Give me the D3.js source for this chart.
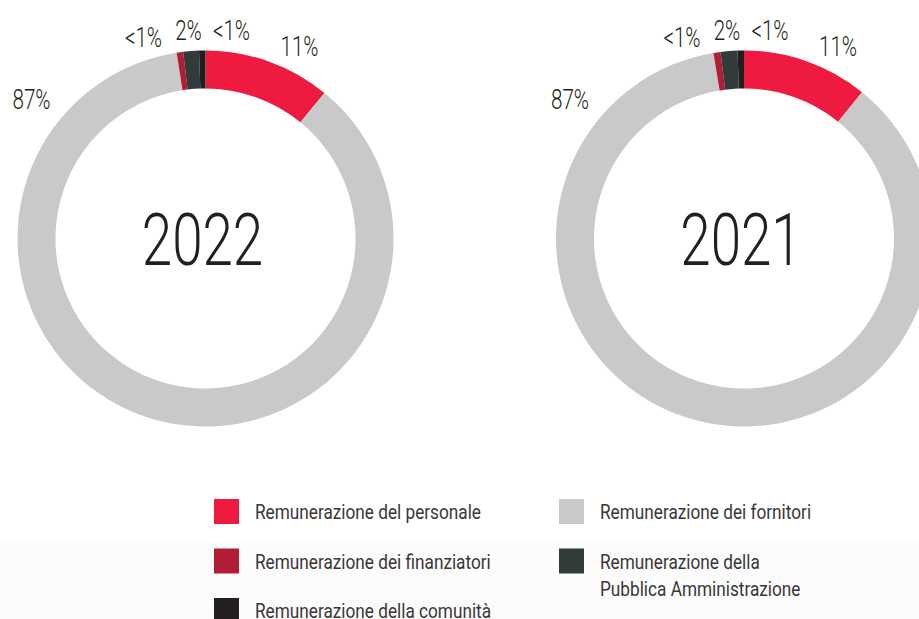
<!DOCTYPE html>
<html lang="en">
<head>
    <meta charset="UTF-8">
    <title>Remunerazione donuts</title>
    <script src="https://d3js.org/d3.v7.min.js"></script>
    <style>
        body { margin: 0; background: #fff; }
        svg { display: block; font-family: Roboto, "Liberation Sans", sans-serif; }
        .pct { font-size: 27.5px; font-weight: 300; fill: #231f20; }
        .year { font-size: 73px; font-weight: 300; fill: #231f20; }
        .legend text { font-size: 21px; font-weight: 400; fill: #3a3637; }
    </style>
</head>
<body>
    <svg width="919" height="619"></svg>
    <script>
        const categories = [
            "Remunerazione del personale",
            "Remunerazione dei fornitori",
            "Remunerazione dei finanziatori",
            "Remunerazione della Pubblica Amministrazione",
            "Remunerazione della comunità"
        ];
        const colors = ["#ee1a3f", "#c9c9c9", "#b31c35", "#313b3a", "#231f20"];
        const years = ["2022", "2021"];
        const values2022 = [10.9, 86.6, 0.55, 1.35, 0.55];
        const values2021 = [10.8, 86.6, 0.6, 1.45, 0.55];
        const labels2022 = ["11%", "87%", "<1%", "2%", "<1%"];
        const labels2021 = ["11%", "87%", "<1%", "2%", "<1%"];

        const svg = d3.select("svg");
        const width = 919, height = 619;

        // light band behind the legend
        svg.append("rect")
            .attr("x", 0).attr("y", 540)
            .attr("width", width).attr("height", height - 540)
            .attr("fill", "#fcfcfc");

        const outerR = 188, innerR = 150;
        const centers = [[205.5, 238.5], [744, 238.5]];
        // label spots relative to each donut centre, by slice
        const labelPos = [[94, -183], [-174, -130], [-62, -192], [-17, -199], [26, -199]];

        const pie = d3.pie().sort(null).value(d => d);
        const arc = d3.arc().innerRadius(innerR).outerRadius(outerR);

        [values2022, values2021].forEach((vals, i) => {
            const labels = [labels2022, labels2021][i];
            const g = svg.append("g")
                .attr("transform", `translate(${centers[i][0]},${centers[i][1]})`);

            g.selectAll("path")
                .data(pie(vals))
                .join("path")
                .attr("d", arc)
                .attr("fill", (d, j) => colors[j]);

            g.selectAll("text.pct")
                .data(labels)
                .join("text")
                .attr("class", "pct")
                .attr("text-anchor", "middle")
                .attr("transform", (d, j) => `translate(${labelPos[j][0]},${labelPos[j][1]}) scale(0.75,1)`)
                .text(d => d);

            g.append("text")
                .attr("class", "year")
                .attr("text-anchor", "middle")
                .attr("transform", "translate(-3,26) scale(0.75,1)")
                .text(years[i]);
        });

        // legend: two columns
        const legendItems = [
            { cat: 0, col: 0, row: 0 },
            { cat: 2, col: 0, row: 1 },
            { cat: 4, col: 0, row: 2 },
            { cat: 1, col: 1, row: 0 },
            { cat: 3, col: 1, row: 1 }
        ];
        const colX = [214, 559], rowY0 = 499, rowStep = 49.5, box = 25;
        const legend = svg.append("g").attr("class", "legend");

        legendItems.forEach(it => {
            const x = colX[it.col], y = rowY0 + it.row * rowStep;
            legend.append("rect")
                .attr("x", x).attr("y", y)
                .attr("width", box).attr("height", box)
                .attr("fill", colors[it.cat]);

            let lines = [categories[it.cat]];
            if (it.cat === 3) lines = ["Remunerazione della", "Pubblica Amministrazione"];
            lines.forEach((ln, k) => {
                legend.append("text")
                    .attr("transform", `translate(${x + 41},${y + 20 + k * 27.5}) scale(0.82,1)`)
                    .text(ln);
            });
        });
    </script>
</body>
</html>
